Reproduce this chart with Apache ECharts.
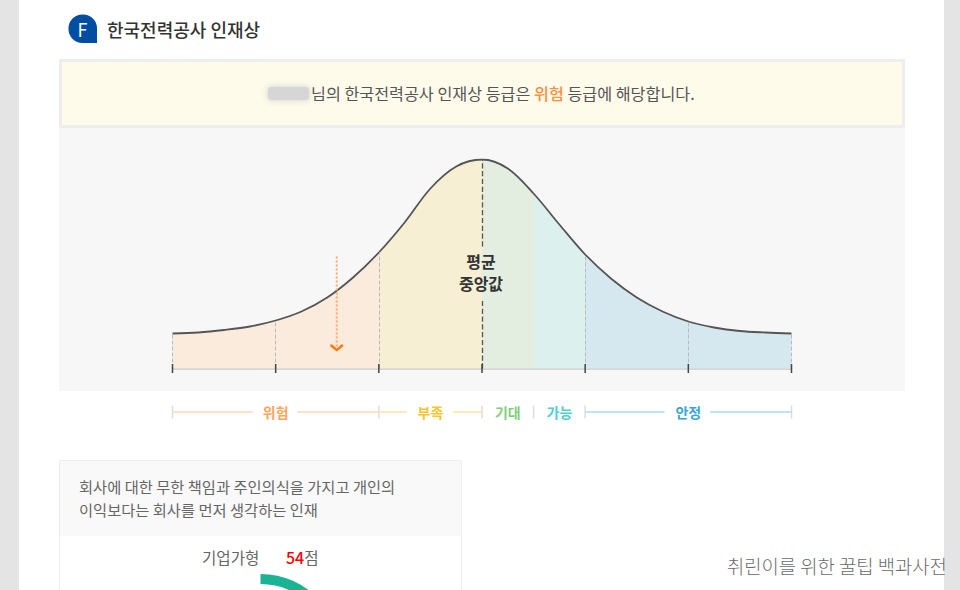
<!DOCTYPE html>
<html>
<head>
<meta charset="utf-8">
<style>
html, body { margin: 0; padding: 0; background: #fff; }
#main { width: 960px; height: 590px; }
</style>
<script src="https://cdn.jsdelivr.net/npm/echarts@6/dist/echarts.min.js"></script>
</head>
<body>
<div id="main"></div>
<script>
var FONT = '"Noto Sans CJK KR"';

// curve: x in sigma, y = height above the baseline
var curveX = [-3, -2.75, -2.5, -2.25, -2, -1.75, -1.5, -1.25, -1, -0.75, -0.5, -0.25, 0,
    0.25, 0.5, 0.75, 1, 1.25, 1.5, 1.75, 2, 2.25, 2.5, 2.75, 3];
var curveY = [35, 36, 38.5, 42, 48, 57, 71, 91, 116, 146, 180, 202, 209,
    200, 175, 144, 114, 90, 71, 57, 47, 41, 37.5, 36, 35];

var tickX = [-3, -2, -1, 0, 1, 2, 3];
var bandEdges = [-3, -1, 0, 0.5, 1, 3];
var bandColors = ['#faebdd', '#f6efd3', '#e4eee0', '#dcf0ee', '#d6e8ef'];

var gradeNames = ['위험', '부족', '기대', '가능', '안정'];
var gradeCenters = [-2, -0.5, 0.25, 0.75, 2];
var gradeColors = ['#ffa55c', '#fcc42e', '#7fd07a', '#4dd0d0', '#3ba5d8'];

var riskLine = [-3, -2.22, -1.79, -1];
var lackLine = [-1, -0.73, -0.28, 0];
var stableLine = [1, 1.77, 2.21, 3];

var arrowX = -1.408;
var arrowTop = 112;
var arrowBottom = 20.5;
var medianGap = [69, 122];

var score = 54;

var curveData = curveX.map(function (v, i) {
    return [v, curveY[i]];
});

function heightAt(x) {
    return curveY[curveX.indexOf(x)];
}

function stripSeries(list, color) {
    return {
        type: 'line',
        xAxisIndex: 1,
        yAxisIndex: 1,
        symbol: 'none',
        silent: true,
        lineStyle: { color: color, width: 1.5 },
        data: [[list[0], 0.5], [list[1], 0.5], ['-', '-'], [list[2], 0.5], [list[3], 0.5]]
    };
}

function dashSegment(x, from, to) {
    return [{ coord: [x, from] }, { coord: [x, to] }];
}

var sideDash = [-3, -2, -1, 1, 2, 3].map(function (x) {
    return dashSegment(x, 0, heightAt(x));
});

var pieces = gradeNames.map(function (v, i) {
    return { gte: bandEdges[i], lt: bandEdges[i + 1], color: bandColors[i] };
});
pieces[4].lte = 3;
delete pieces[4].lt;

var myChart = echarts.init(document.getElementById('main'), null, { renderer: 'svg' });

var option = {
    animation: false,
    backgroundColor: '#fff',
    textStyle: { fontFamily: FONT },
    grid: [
        { left: 172.5, width: 619, top: 159.5, height: 209 },
        { left: 172.5, width: 619, top: 401, height: 22 }
    ],
    xAxis: [
        {
            type: 'value', min: -3, max: 3, interval: 1,
            axisLine: { show: true, onZero: false, lineStyle: { color: '#ccc', width: 1.5 } },
            axisTick: { show: false },
            axisLabel: { show: false },
            splitLine: { show: false }
        },
        { type: 'value', gridIndex: 1, min: -3, max: 3, show: false }
    ],
    yAxis: [
        { type: 'value', min: 0, max: 209, show: false },
        { type: 'value', gridIndex: 1, min: 0, max: 1, show: false }
    ],
    visualMap: {
        type: 'piecewise',
        show: false,
        dimension: 0,
        seriesIndex: 0,
        pieces: pieces
    },
    series: [
        {
            // coloured bands under the curve
            type: 'line', smooth: 0.33, symbol: 'none', silent: true,
            lineStyle: { width: 0 },
            areaStyle: { opacity: 1 },
            data: curveData,
            z: 1
        },
        {
            type: 'line', smooth: 0.33, symbol: 'none', silent: true,
            lineStyle: { color: '#555', width: 1.8 },
            data: curveData,
            z: 4,
            markLine: {
                silent: true,
                symbol: 'none',
                label: { show: false },
                lineStyle: { color: '#bbb', type: 'dashed', width: 1 },
                data: sideDash
            }
        },
        {
            // median line, broken around the label
            type: 'line', symbol: 'none', silent: true,
            lineStyle: { width: 0 },
            data: [],
            z: 3,
            markLine: {
                silent: true,
                symbol: 'none',
                label: { show: false },
                lineStyle: { color: '#555', type: 'dashed', width: 1.3 },
                data: [
                    dashSegment(0, 0, medianGap[0]),
                    dashSegment(0, medianGap[1], heightAt(0))
                ]
            }
        },
        {
            type: 'scatter', silent: true,
            symbol: 'rect', symbolSize: [1.5, 9],
            itemStyle: { color: '#444', opacity: 1 },
            data: tickX.map(function (x) { return [x, 0]; }),
            clip: false,
            z: 5
        },
        {
            // orange arrow
            type: 'line', symbol: 'none', silent: true,
            lineStyle: { color: '#fbab6b', type: 'dotted', width: 2 },
            data: [[arrowX, arrowTop], [arrowX, arrowBottom]],
            z: 6
        },
        {
            type: 'scatter', silent: true,
            symbol: 'path://M0 0 L2 0 L6 4 L10 0 L12 0 L12 2 L6 7 L0 2 Z',
            symbolSize: [13, 7],
            itemStyle: { color: '#f97c17', opacity: 1 },
            data: [[arrowX, arrowBottom]],
            z: 6
        },
        stripSeries(riskLine, '#fdd9b8'),
        stripSeries(lackLine, '#fbe69a'),
        stripSeries(stableLine, '#aaddf0'),
        {
            type: 'scatter', xAxisIndex: 1, yAxisIndex: 1, silent: true,
            symbol: 'rect', symbolSize: [1.5, 13],
            itemStyle: { color: '#ddd', opacity: 1 },
            data: bandEdges.map(function (x) { return [x, 0.5]; })
        },
        {
            type: 'scatter', xAxisIndex: 1, yAxisIndex: 1, silent: true,
            symbolSize: 0,
            itemStyle: { opacity: 1 },
            data: gradeNames.map(function (name, i) {
                return {
                    value: [gradeCenters[i], 0.5],
                    label: {
                        show: true, position: 'inside', formatter: name,
                        color: gradeColors[i], fontSize: 14, fontWeight: 'bold', fontFamily: FONT
                    }
                };
            })
        },
        {
            type: 'pie', silent: true,
            center: [260.5, 654], radius: [70, 80],
            startAngle: 90, clockwise: true,
            label: { show: false },
            labelLine: { show: false },
            data: [
                { value: score, itemStyle: { color: '#1ab394' } },
                { value: 100 - score, itemStyle: { color: 'transparent' } }
            ]
        }
    ],
    graphic: [
        // page chrome behind the chart
        { type: 'rect', z: -10, silent: true, shape: { x: 0, y: 0, width: 19, height: 590 }, style: { fill: '#e4e4e4' } },
        { type: 'rect', z: -10, silent: true, shape: { x: 944, y: 0, width: 16, height: 590 }, style: { fill: '#e4e4e4' } },
        { type: 'rect', z: -10, silent: true, shape: { x: 59, y: 128, width: 846, height: 263 }, style: { fill: '#f7f7f7' } },
        { type: 'rect', z: -10, silent: true, shape: { x: 60.5, y: 60.5, width: 843, height: 66 }, style: { fill: '#fefbeb', stroke: '#eee', lineWidth: 3 } },
        { type: 'rect', z: -10, silent: true, shape: { x: 59.5, y: 460.5, width: 402, height: 140 }, style: { fill: '#fff', stroke: '#eee', lineWidth: 1 } },
        { type: 'rect', z: -10, silent: true, shape: { x: 60, y: 461, width: 401, height: 75 }, style: { fill: '#f9f9f9' } },

        // section heading
        { type: 'rect', z: 10, silent: true, shape: { x: 68.5, y: 14.5, width: 28.5, height: 28.5, r: [14, 14, 0, 14] }, style: { fill: '#004ea2' } },
        { type: 'text', z: 11, silent: true, style: { x: 82.5, y: 29, text: 'F', fill: '#fff', font: '400 18px ' + FONT, textAlign: 'center', textVerticalAlign: 'middle' } },
        { type: 'text', z: 11, silent: true, style: { x: 107, y: 29, text: '한국전력공사 인재상', fill: '#333', font: '500 18px ' + FONT, textVerticalAlign: 'middle' } },

        // notice line
        { type: 'rect', z: 10, silent: true, shape: { x: 268, y: 87, width: 41, height: 13, r: 3 }, style: { fill: '#d6d6d6', shadowBlur: 7, shadowColor: '#cfcfcf' } },
        {
            type: 'text', z: 11, silent: true,
            style: {
                x: 311, y: 93, textVerticalAlign: 'middle',
                text: '{a|님의 한국전력공사 인재상 등급은 }{b|위험}{a| 등급에 해당합니다.}',
                rich: {
                    a: { fill: '#555', font: '16.2px ' + FONT },
                    b: { fill: '#f9913d', font: '500 16.2px ' + FONT }
                }
            }
        },

        // median label
        { type: 'text', z: 11, silent: true, style: { x: 481, y: 261, text: '평균', fill: '#333', font: 'bold 16px ' + FONT, textAlign: 'center', textVerticalAlign: 'middle' } },
        { type: 'text', z: 11, silent: true, style: { x: 481, y: 283, text: '중앙값', fill: '#333', font: 'bold 16px ' + FONT, textAlign: 'center', textVerticalAlign: 'middle' } },

        // card
        { type: 'text', z: 11, silent: true, style: { x: 79, y: 486, text: '회사에 대한 무한 책임과 주인의식을 가지고 개인의', fill: '#666', font: '15.3px ' + FONT, textVerticalAlign: 'middle' } },
        { type: 'text', z: 11, silent: true, style: { x: 79, y: 509, text: '이익보다는 회사를 먼저 생각하는 인재', fill: '#666', font: '15.3px ' + FONT, textVerticalAlign: 'middle' } },
        { type: 'text', z: 11, silent: true, style: { x: 202, y: 557, text: '기업가형', fill: '#666', font: '15.6px ' + FONT, textVerticalAlign: 'middle' } },
        {
            type: 'text', z: 11, silent: true,
            style: {
                x: 286, y: 557, textVerticalAlign: 'middle',
                text: '{r|' + score + '}{a|점}',
                rich: {
                    r: { fill: '#f00', font: '500 16px ' + FONT },
                    a: { fill: '#666', font: '15.6px ' + FONT }
                }
            }
        },

        // watermark
        { type: 'text', z: 11, silent: true, style: { x: 727, y: 565, text: '취린이를 위한 꿀팁 백과사전', fill: '#6a6a6a', font: '300 18.8px ' + FONT, textVerticalAlign: 'middle' } }
    ]
};
myChart.setOption(option);
</script>
</body>
</html>
